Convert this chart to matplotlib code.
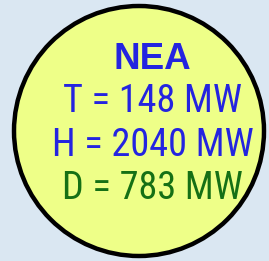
import matplotlib
matplotlib.use("Agg")
import matplotlib.pyplot as plt
from matplotlib.patches import Ellipse

title = "NEA"
labels = ["T", "H", "D"]
values = [148, 2040, 783]
unit = "MW"
colors = ["#2424e0", "#2424e0", "#157015"]

W, H = 269, 261
fig = plt.figure(figsize=(W / 100, H / 100), dpi=100)
fig.patch.set_facecolor("#dae7f2")
ax = fig.add_axes([0, 0, 1, 1])
ax.set_xlim(0, W)
ax.set_ylim(H, 0)
ax.axis("off")

ax.add_patch(Ellipse((139, 131), 250, 250, facecolor="#eeff88",
                     edgecolor="black", linewidth=3.2))

ax.text(152.5, 69, title, ha="center", va="baseline", fontsize=26.5,
        fontweight="bold", family=["Liberation Sans", "DejaVu Sans"], color="#2424e0")
baselines = [112, 156, 199]
for lab, v, c, y in zip(labels, values, colors, baselines):
    ax.text(152.5, y, f"{lab} = {v} {unit}", ha="center", va="baseline",
            fontsize=27.5, family=["Roboto Condensed", "Liberation Sans"], color=c)

fig.savefig("out.png", dpi=100, facecolor=fig.get_facecolor())
